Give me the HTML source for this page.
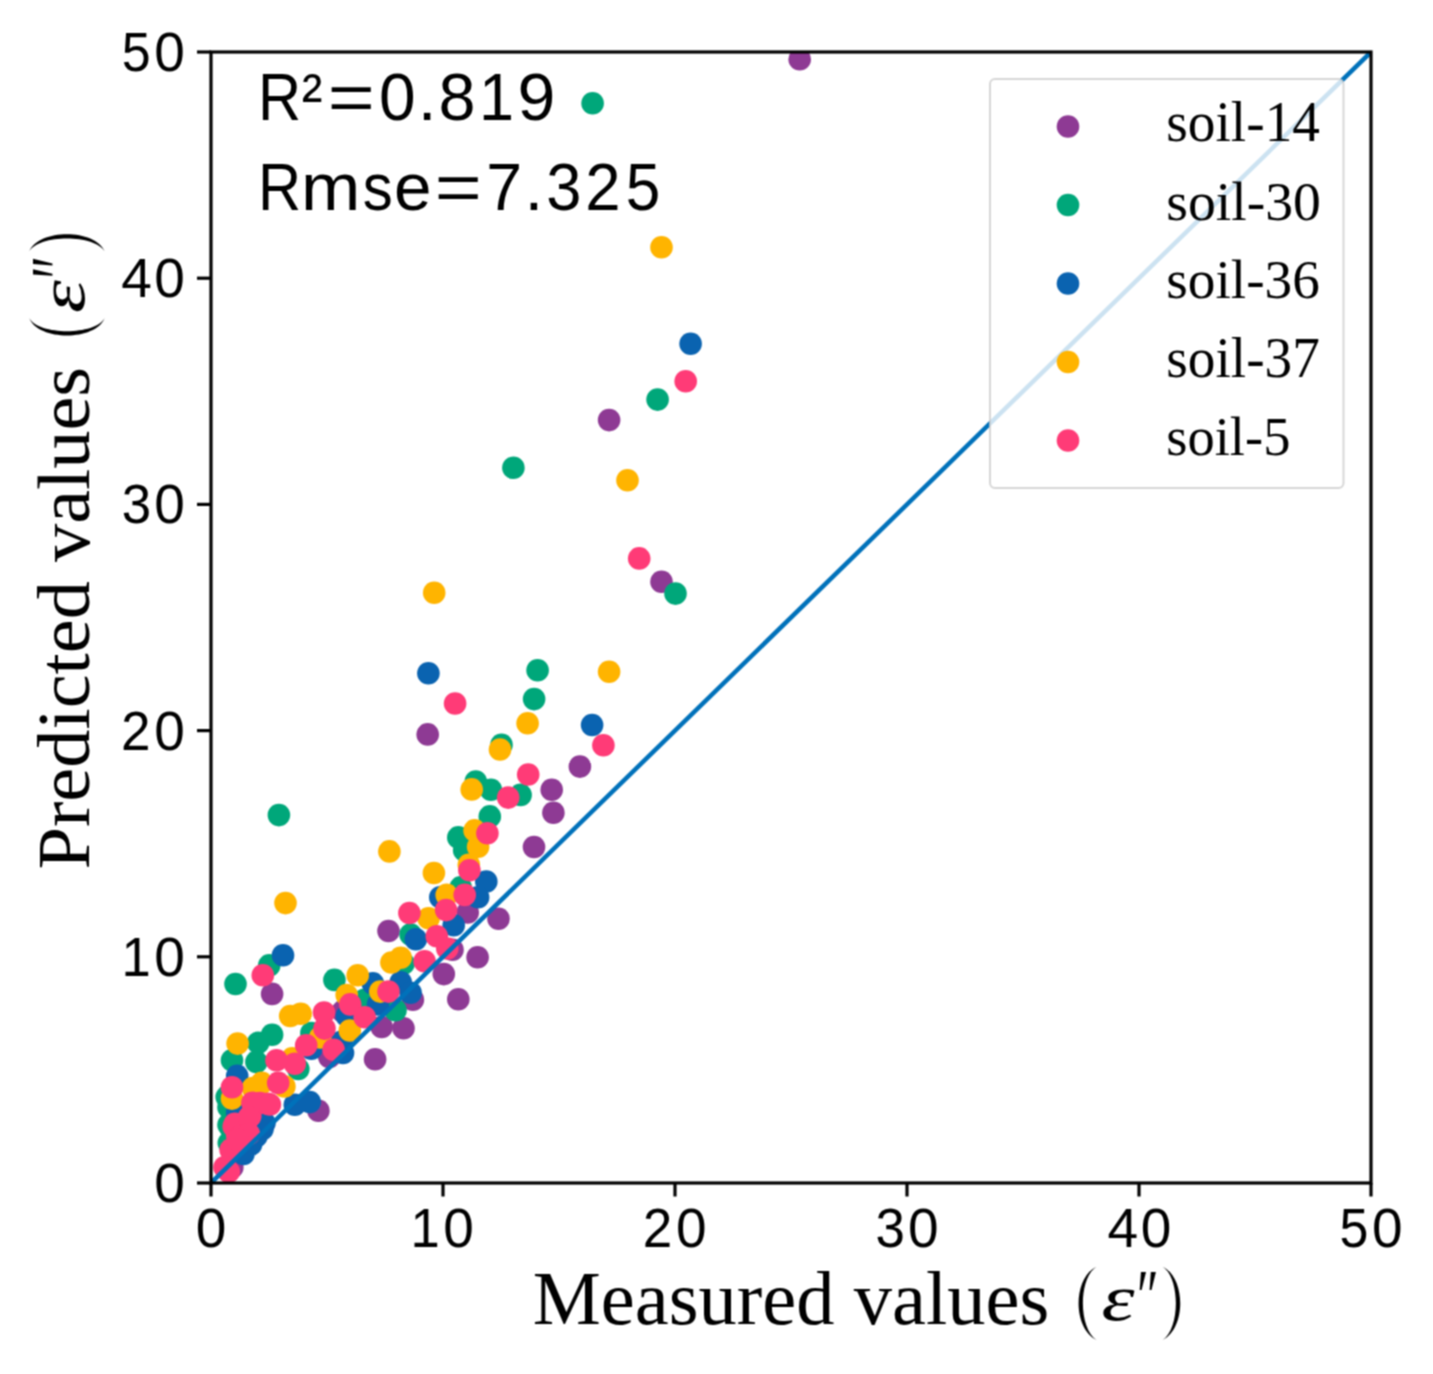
<!DOCTYPE html>
<html><head><meta charset="utf-8"><title>Predicted vs Measured values</title>
<style>
html,body{margin:0;padding:0;background:#fff;}
body{width:1433px;height:1374px;overflow:hidden;}
svg{display:block;}
text{fill:#000;}
</style></head><body>
<svg width="1433" height="1374" viewBox="0 0 1433 1374">
<filter id="soft" x="0" y="0" width="1433" height="1374" filterUnits="userSpaceOnUse" color-interpolation-filters="sRGB"><feConvolveMatrix order="3" kernelMatrix="1 2 1 2 4 2 1 2 1" divisor="16" edgeMode="duplicate" preserveAlpha="true"/></filter>
<g filter="url(#soft)">
<rect width="1433" height="1374" fill="#fff"/>
<defs><clipPath id="ax"><rect x="211.0" y="52.0" width="1160.0" height="1131.0"/></clipPath></defs>
<g clip-path="url(#ax)">
<g fill="#8E3A94"><circle cx="609.1" cy="420.1" r="11.3"/><circle cx="799.7" cy="59.2" r="11.3"/><circle cx="661.5" cy="581.7" r="11.3"/><circle cx="427.7" cy="734.4" r="11.3"/><circle cx="534.0" cy="847.0" r="11.3"/><circle cx="579.9" cy="766.6" r="11.3"/><circle cx="551.7" cy="789.7" r="11.3"/><circle cx="553.4" cy="812.7" r="11.3"/><circle cx="467.7" cy="912.4" r="11.3"/><circle cx="498.5" cy="918.8" r="11.3"/><circle cx="388.5" cy="931.0" r="11.3"/><circle cx="452.5" cy="949.7" r="11.3"/><circle cx="477.6" cy="957.2" r="11.3"/><circle cx="443.8" cy="974.1" r="11.3"/><circle cx="412.9" cy="999.7" r="11.3"/><circle cx="458.3" cy="999.2" r="11.3"/><circle cx="272.1" cy="993.9" r="11.3"/><circle cx="342.6" cy="1011.4" r="11.3"/><circle cx="318.4" cy="1110.8" r="11.3"/><circle cx="403.5" cy="1028.3" r="11.3"/><circle cx="381.7" cy="1027.0" r="11.3"/><circle cx="375.1" cy="1059.3" r="11.3"/><circle cx="329.3" cy="1057.0" r="11.3"/><circle cx="232.3" cy="1167.3" r="11.3"/><circle cx="254.9" cy="1136.6" r="11.3"/></g>
<g fill="#00A77A"><circle cx="657.6" cy="399.6" r="11.3"/><circle cx="513.4" cy="467.8" r="11.3"/><circle cx="675.5" cy="593.6" r="11.3"/><circle cx="537.6" cy="670.2" r="11.3"/><circle cx="534.1" cy="699.1" r="11.3"/><circle cx="592.6" cy="103.3" r="11.3"/><circle cx="501.5" cy="744.7" r="11.3"/><circle cx="475.8" cy="781.5" r="11.3"/><circle cx="490.9" cy="789.7" r="11.3"/><circle cx="520.6" cy="794.9" r="11.3"/><circle cx="489.8" cy="816.4" r="11.3"/><circle cx="458.3" cy="837.4" r="11.3"/><circle cx="460.7" cy="887.4" r="11.3"/><circle cx="410.6" cy="934.5" r="11.3"/><circle cx="403.6" cy="963.6" r="11.3"/><circle cx="395.5" cy="1010.2" r="11.3"/><circle cx="278.9" cy="815.1" r="11.3"/><circle cx="269.2" cy="965.4" r="11.3"/><circle cx="235.5" cy="984.0" r="11.3"/><circle cx="334.4" cy="979.9" r="11.3"/><circle cx="364.7" cy="999.7" r="11.3"/><circle cx="272.1" cy="1034.8" r="11.3"/><circle cx="258.2" cy="1042.7" r="11.3"/><circle cx="256.4" cy="1061.9" r="11.3"/><circle cx="232.0" cy="1060.2" r="11.3"/><circle cx="228.5" cy="1107.3" r="11.3"/><circle cx="228.5" cy="1124.8" r="11.3"/><circle cx="311.4" cy="1033.1" r="11.3"/><circle cx="298.3" cy="1068.9" r="11.3"/><circle cx="226.7" cy="1096.9" r="11.3"/><circle cx="229.7" cy="1106.2" r="11.3"/><circle cx="230.6" cy="1128.0" r="11.3"/><circle cx="228.8" cy="1142.9" r="11.3"/><circle cx="464.2" cy="850.2" r="11.3"/></g>
<g fill="#0A63B0"><circle cx="690.6" cy="343.7" r="11.3"/><circle cx="428.4" cy="673.2" r="11.3"/><circle cx="592.1" cy="725.0" r="11.3"/><circle cx="486.3" cy="881.5" r="11.3"/><circle cx="440.3" cy="897.3" r="11.3"/><circle cx="478.1" cy="897.3" r="11.3"/><circle cx="453.7" cy="925.2" r="11.3"/><circle cx="415.8" cy="939.2" r="11.3"/><circle cx="400.7" cy="982.3" r="11.3"/><circle cx="410.6" cy="992.8" r="11.3"/><circle cx="378.0" cy="1004.4" r="11.3"/><circle cx="283.0" cy="955.3" r="11.3"/><circle cx="372.9" cy="983.4" r="11.3"/><circle cx="237.2" cy="1075.9" r="11.3"/><circle cx="309.7" cy="1102.1" r="11.3"/><circle cx="294.8" cy="1104.7" r="11.3"/><circle cx="262.5" cy="1129.0" r="11.3"/><circle cx="256.4" cy="1136.2" r="11.3"/><circle cx="237.2" cy="1112.6" r="11.3"/><circle cx="341.5" cy="1041.8" r="11.3"/><circle cx="346.8" cy="1015.9" r="11.3"/><circle cx="343.0" cy="1053.0" r="11.3"/><circle cx="264.5" cy="1123.0" r="11.3"/><circle cx="251.0" cy="1144.5" r="11.3"/><circle cx="243.5" cy="1154.0" r="11.3"/><circle cx="311.4" cy="1048.8" r="11.3"/></g>
<g fill="#FFB400"><circle cx="661.5" cy="247.3" r="11.3"/><circle cx="627.5" cy="480.2" r="11.3"/><circle cx="434.2" cy="592.7" r="11.3"/><circle cx="609.1" cy="671.8" r="11.3"/><circle cx="500.0" cy="749.5" r="11.3"/><circle cx="527.6" cy="723.3" r="11.3"/><circle cx="471.7" cy="789.4" r="11.3"/><circle cx="474.6" cy="830.4" r="11.3"/><circle cx="478.1" cy="846.7" r="11.3"/><circle cx="389.4" cy="851.4" r="11.3"/><circle cx="433.9" cy="873.0" r="11.3"/><circle cx="468.8" cy="864.7" r="11.3"/><circle cx="446.7" cy="894.9" r="11.3"/><circle cx="428.6" cy="918.2" r="11.3"/><circle cx="400.7" cy="957.8" r="11.3"/><circle cx="391.4" cy="962.5" r="11.3"/><circle cx="380.3" cy="991.6" r="11.3"/><circle cx="285.5" cy="903.1" r="11.3"/><circle cx="357.7" cy="975.3" r="11.3"/><circle cx="346.7" cy="995.1" r="11.3"/><circle cx="300.7" cy="1013.7" r="11.3"/><circle cx="290.2" cy="1016.0" r="11.3"/><circle cx="237.6" cy="1043.6" r="11.3"/><circle cx="232.0" cy="1098.6" r="11.3"/><circle cx="320.2" cy="1037.5" r="11.3"/><circle cx="292.2" cy="1058.4" r="11.3"/><circle cx="284.4" cy="1086.4" r="11.3"/><circle cx="261.7" cy="1082.9" r="11.3"/><circle cx="252.9" cy="1088.1" r="11.3"/><circle cx="349.8" cy="1030.5" r="11.3"/></g>
<g fill="#FF3B77"><circle cx="685.7" cy="381.2" r="11.3"/><circle cx="639.2" cy="558.4" r="11.3"/><circle cx="455.1" cy="703.5" r="11.3"/><circle cx="528.2" cy="774.5" r="11.3"/><circle cx="508.2" cy="797.6" r="11.3"/><circle cx="487.4" cy="833.3" r="11.3"/><circle cx="603.4" cy="745.2" r="11.3"/><circle cx="469.4" cy="870.2" r="11.3"/><circle cx="464.7" cy="894.9" r="11.3"/><circle cx="446.1" cy="910.1" r="11.3"/><circle cx="409.4" cy="913.0" r="11.3"/><circle cx="436.8" cy="936.3" r="11.3"/><circle cx="447.3" cy="948.5" r="11.3"/><circle cx="424.6" cy="961.3" r="11.3"/><circle cx="388.5" cy="991.6" r="11.3"/><circle cx="262.8" cy="975.3" r="11.3"/><circle cx="350.2" cy="1004.4" r="11.3"/><circle cx="324.0" cy="1012.5" r="11.3"/><circle cx="364.7" cy="1017.2" r="11.3"/><circle cx="232.0" cy="1087.2" r="11.3"/><circle cx="276.5" cy="1060.2" r="11.3"/><circle cx="294.8" cy="1063.7" r="11.3"/><circle cx="306.2" cy="1045.3" r="11.3"/><circle cx="324.5" cy="1028.6" r="11.3"/><circle cx="278.2" cy="1082.9" r="11.3"/><circle cx="259.9" cy="1103.0" r="11.3"/><circle cx="250.3" cy="1116.1" r="11.3"/><circle cx="233.7" cy="1126.6" r="11.3"/><circle cx="237.2" cy="1135.3" r="11.3"/><circle cx="267.8" cy="1103.8" r="11.3"/><circle cx="333.6" cy="1049.7" r="11.3"/><circle cx="252.4" cy="1102.7" r="11.3"/><circle cx="269.9" cy="1104.5" r="11.3"/><circle cx="234.9" cy="1123.7" r="11.3"/><circle cx="248.9" cy="1117.6" r="11.3"/><circle cx="230.6" cy="1149.9" r="11.3"/><circle cx="224.5" cy="1167.3" r="11.3"/><circle cx="228.8" cy="1171.7" r="11.3"/><circle cx="239.3" cy="1136.8" r="11.3"/><circle cx="248.9" cy="1134.1" r="11.3"/><circle cx="238.0" cy="1140.0" r="11.3"/></g>
<line x1="211.0" y1="1183.0" x2="1371.0" y2="52.0" stroke="#0071BA" stroke-width="4.5"/>
</g>
<rect x="211.0" y="52.0" width="1160.0" height="1131.0" fill="none" stroke="#000" stroke-width="3.2"/>
<g stroke="#000" stroke-width="3.2"><line x1="211.0" y1="1183.0" x2="211.0" y2="1196.5"/><line x1="211.0" y1="1183.0" x2="197.0" y2="1183.0"/><line x1="443.0" y1="1183.0" x2="443.0" y2="1196.5"/><line x1="211.0" y1="956.8" x2="197.0" y2="956.8"/><line x1="675.0" y1="1183.0" x2="675.0" y2="1196.5"/><line x1="211.0" y1="730.6" x2="197.0" y2="730.6"/><line x1="907.0" y1="1183.0" x2="907.0" y2="1196.5"/><line x1="211.0" y1="504.4" x2="197.0" y2="504.4"/><line x1="1139.0" y1="1183.0" x2="1139.0" y2="1196.5"/><line x1="211.0" y1="278.2" x2="197.0" y2="278.2"/><line x1="1371.0" y1="1183.0" x2="1371.0" y2="1196.5"/><line x1="211.0" y1="52.0" x2="197.0" y2="52.0"/></g>
<rect x="990" y="79" width="353.5" height="409" rx="5" ry="5" fill="#fff" fill-opacity="0.8" stroke="#ccc" stroke-opacity="0.8" stroke-width="2"/>
<circle cx="1068" cy="126.5" r="11.3" fill="#8E3A94"/>
<circle cx="1068" cy="205.0" r="11.3" fill="#00A77A"/>
<circle cx="1068" cy="283.5" r="11.3" fill="#0A63B0"/>
<circle cx="1068" cy="362.0" r="11.3" fill="#FFB400"/>
<circle cx="1068" cy="440.5" r="11.3" fill="#FF3B77"/>
<text x="1166.30" y="140.50" style="font-family:'Liberation Serif',serif;font-size:56.66px" textLength="153.72" lengthAdjust="spacingAndGlyphs">soil-14</text>
<text x="1166.30" y="219.80" style="font-family:'Liberation Serif',serif;font-size:55.95px" textLength="154.56" lengthAdjust="spacingAndGlyphs">soil-30</text>
<text x="1166.30" y="297.50" style="font-family:'Liberation Serif',serif;font-size:55.71px" textLength="153.53" lengthAdjust="spacingAndGlyphs">soil-36</text>
<text x="1166.30" y="376.50" style="font-family:'Liberation Serif',serif;font-size:57.97px" textLength="153.53" lengthAdjust="spacingAndGlyphs">soil-37</text>
<text x="1166.30" y="454.60" style="font-family:'Liberation Serif',serif;font-size:54.46px" textLength="124.08" lengthAdjust="spacingAndGlyphs">soil-5</text>
<text x="532.80" y="1323.50" style="font-family:'Liberation Serif',serif;font-size:75.07px" textLength="516.39" lengthAdjust="spacingAndGlyphs">Measured values</text>
<text transform="translate(88.50,869.60) rotate(-90)" x="0" y="0" style="font-family:'Liberation Serif',serif;font-size:73.12px" textLength="502.68" lengthAdjust="spacingAndGlyphs">Predicted values</text>
<text x="1101.50" y="1319.50" style="font-family:'Liberation Serif',serif;font-size:64.88px;font-style:italic" textLength="33.03" lengthAdjust="spacingAndGlyphs">ε</text>
<text x="1133.40" y="1322.30" style="font-family:'Liberation Serif',serif;font-size:76.82px;font-style:italic" textLength="21.95" lengthAdjust="spacingAndGlyphs">″</text>
<text transform="translate(84.00,313.00) rotate(-90)" x="0" y="0" style="font-family:'Liberation Serif',serif;font-size:66.07px;font-style:italic" textLength="32.96" lengthAdjust="spacingAndGlyphs">ε</text>
<text transform="translate(87.00,282.30) rotate(-90)" x="0" y="0" style="font-family:'Liberation Serif',serif;font-size:81.84px;font-style:italic" textLength="22.95" lengthAdjust="spacingAndGlyphs">″</text>
<text y="1202.00" style="font-family:'Liberation Sans',sans-serif;font-size:55.49px"><tspan x="154.35" textLength="30.60" lengthAdjust="spacingAndGlyphs">0</tspan></text>
<text y="1246.50" style="font-family:'Liberation Sans',sans-serif;font-size:55.49px"><tspan x="195.70" textLength="30.60" lengthAdjust="spacingAndGlyphs">0</tspan></text>
<text y="975.80" style="font-family:'Liberation Sans',sans-serif;font-size:55.49px"><tspan x="121.58" textLength="29.23" lengthAdjust="spacingAndGlyphs">1</tspan><tspan x="154.35" textLength="30.60" lengthAdjust="spacingAndGlyphs">0</tspan></text>
<text y="1246.50" style="font-family:'Liberation Sans',sans-serif;font-size:55.49px"><tspan x="410.39" textLength="29.23" lengthAdjust="spacingAndGlyphs">1</tspan><tspan x="443.16" textLength="30.60" lengthAdjust="spacingAndGlyphs">0</tspan></text>
<text y="749.60" style="font-family:'Liberation Sans',sans-serif;font-size:55.49px"><tspan x="121.00" textLength="29.50" lengthAdjust="spacingAndGlyphs">2</tspan><tspan x="154.35" textLength="30.60" lengthAdjust="spacingAndGlyphs">0</tspan></text>
<text y="1246.50" style="font-family:'Liberation Sans',sans-serif;font-size:55.49px"><tspan x="642.77" textLength="29.50" lengthAdjust="spacingAndGlyphs">2</tspan><tspan x="676.11" textLength="30.60" lengthAdjust="spacingAndGlyphs">0</tspan></text>
<text y="523.40" style="font-family:'Liberation Sans',sans-serif;font-size:55.49px"><tspan x="121.81" textLength="29.39" lengthAdjust="spacingAndGlyphs">3</tspan><tspan x="154.35" textLength="30.60" lengthAdjust="spacingAndGlyphs">0</tspan></text>
<text y="1246.50" style="font-family:'Liberation Sans',sans-serif;font-size:55.49px"><tspan x="875.50" textLength="29.39" lengthAdjust="spacingAndGlyphs">3</tspan><tspan x="908.04" textLength="30.60" lengthAdjust="spacingAndGlyphs">0</tspan></text>
<text y="297.20" style="font-family:'Liberation Sans',sans-serif;font-size:55.49px"><tspan x="121.13" textLength="30.61" lengthAdjust="spacingAndGlyphs">4</tspan><tspan x="154.35" textLength="30.60" lengthAdjust="spacingAndGlyphs">0</tspan></text>
<text y="1246.50" style="font-family:'Liberation Sans',sans-serif;font-size:55.49px"><tspan x="1107.53" textLength="30.61" lengthAdjust="spacingAndGlyphs">4</tspan><tspan x="1140.75" textLength="30.60" lengthAdjust="spacingAndGlyphs">0</tspan></text>
<text y="71.00" style="font-family:'Liberation Sans',sans-serif;font-size:55.49px"><tspan x="121.79" textLength="28.88" lengthAdjust="spacingAndGlyphs">5</tspan><tspan x="154.35" textLength="30.60" lengthAdjust="spacingAndGlyphs">0</tspan></text>
<text y="1246.50" style="font-family:'Liberation Sans',sans-serif;font-size:55.49px"><tspan x="1339.46" textLength="28.88" lengthAdjust="spacingAndGlyphs">5</tspan><tspan x="1372.01" textLength="30.60" lengthAdjust="spacingAndGlyphs">0</tspan></text>
<text y="120.00" style="font-family:'Liberation Sans',sans-serif;font-size:66.44px"><tspan x="257.90" textLength="43.17" lengthAdjust="spacingAndGlyphs">R</tspan><tspan x="301.72" textLength="20.67" lengthAdjust="spacingAndGlyphs">²</tspan><tspan x="327.84" textLength="47.03" lengthAdjust="spacingAndGlyphs">=</tspan><tspan x="379.06" textLength="36.64" lengthAdjust="spacingAndGlyphs">0</tspan><tspan x="417.79" textLength="18.79" lengthAdjust="spacingAndGlyphs">.</tspan><tspan x="438.49" textLength="37.04" lengthAdjust="spacingAndGlyphs">8</tspan><tspan x="478.98" textLength="35.00" lengthAdjust="spacingAndGlyphs">1</tspan><tspan x="517.42" textLength="37.85" lengthAdjust="spacingAndGlyphs">9</tspan></text>
<text y="210.20" style="font-family:'Liberation Sans',sans-serif;font-size:66.44px"><tspan x="257.90" textLength="43.17" lengthAdjust="spacingAndGlyphs">R</tspan><tspan x="301.04" textLength="59.32" lengthAdjust="spacingAndGlyphs">m</tspan><tspan x="362.70" textLength="29.96" lengthAdjust="spacingAndGlyphs">s</tspan><tspan x="394.12" textLength="37.54" lengthAdjust="spacingAndGlyphs">e</tspan><tspan x="434.68" textLength="47.03" lengthAdjust="spacingAndGlyphs">=</tspan><tspan x="486.18" textLength="35.84" lengthAdjust="spacingAndGlyphs">7</tspan><tspan x="524.63" textLength="18.79" lengthAdjust="spacingAndGlyphs">.</tspan><tspan x="546.34" textLength="35.19" lengthAdjust="spacingAndGlyphs">3</tspan><tspan x="585.14" textLength="35.32" lengthAdjust="spacingAndGlyphs">2</tspan><tspan x="625.85" textLength="34.58" lengthAdjust="spacingAndGlyphs">5</tspan></text>
<path d="M1096.6,1266.7 C1072.6,1277.7 1072.6,1329.0 1096.6,1340.0 C1078.3,1329.0 1078.3,1277.7 1096.6,1266.7Z" fill="#000"/>
<path d="M1162.6,1266.7 C1186.1,1277.7 1186.1,1329.0 1162.6,1340.0 C1180.3,1329.0 1180.3,1277.7 1162.6,1266.7Z" fill="#000"/>
<path d="M29.2,251.6 C38.3,228.4 95.6,228.4 104.7,251.6 C95.6,234.1 38.3,234.1 29.2,251.6Z" fill="#000"/>
<path d="M29.2,318.0 C38.3,341.3 95.6,341.3 104.7,318.0 C95.6,335.6 38.3,335.6 29.2,318.0Z" fill="#000"/>
</g></svg></body></html>
